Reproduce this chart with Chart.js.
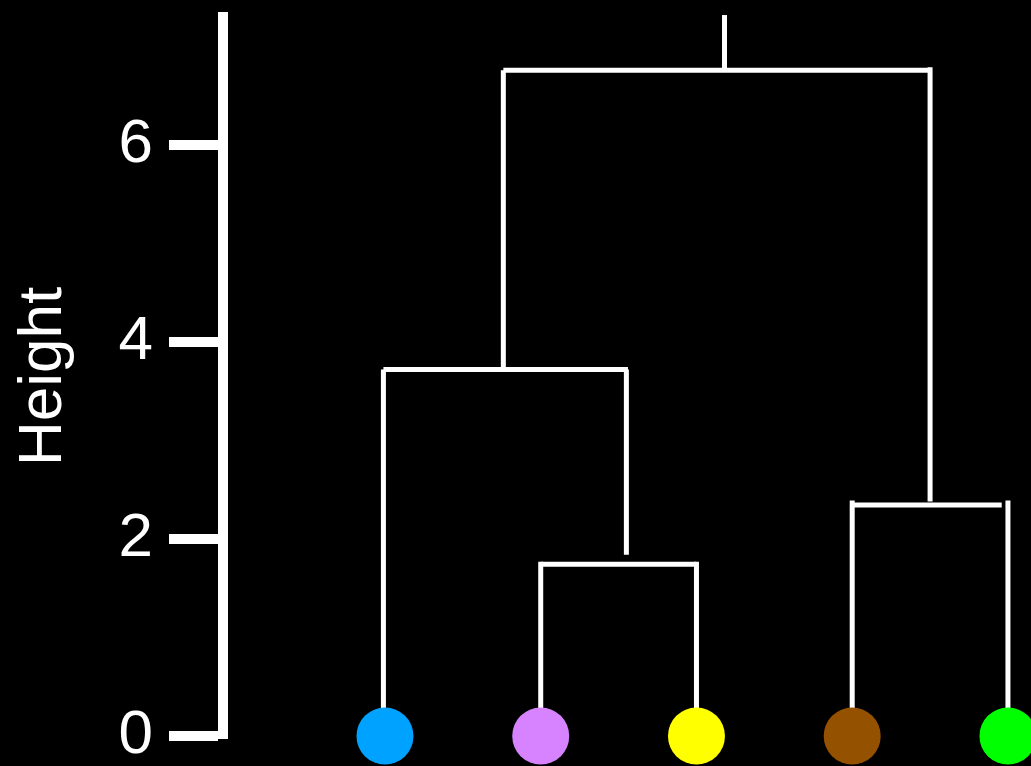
<!DOCTYPE html>
<html>
<head>
<meta charset="utf-8">
<script src="https://cdn.jsdelivr.net/npm/chart.js@4/dist/chart.umd.min.js"></script>
<style>
  html, body { margin: 0; padding: 0; background: #000; }
  canvas { display: block; }
</style>
</head>
<body>
<canvas id="c" width="1031" height="766"></canvas>
<script>
// Leaves (bottom of the dendrogram)
const leafX = [1, 2, 3, 4, 5];
const leafColors = ['#00A2FF', '#D783FF', '#FFFF00', '#945200', '#00FF00'];
// Y axis
const yTicks = [0, 2, 4, 6];
const yTitle = 'Height';
// Merge heights
const mergeHeights = [1.75, 2.35, 3.72, 6.76];
// Dendrogram segments: [x1, y1, x2, y2] in data units
const segments = [
  [0.99, 0,     0.99, 3.72],
  [0.99, 3.72,  2.56, 3.72],
  [2.55, 3.72,  2.55, 1.84],
  [2.00, 0,     2.00, 1.77],
  [2.00, 1.745, 3.00, 1.745],
  [3.00, 0,     3.00, 1.77],
  [1.76, 3.72,  1.76, 6.76],
  [1.76, 6.76,  4.50, 6.76],
  [4.50, 6.79,  4.50, 2.38],
  [3.18, 6.76,  3.18, 7.32],
  [4.00, 0,     4.00, 2.39],
  [4.00, 2.345, 4.96, 2.345],
  [5.00, 0,     5.00, 2.39]
];

const FONT = '"Liberation Sans", Arial, Helvetica, sans-serif';

const datasets = [{
  type: 'scatter',
  label: 'leaves',
  data: leafX.map(x => ({x: x, y: 0})),
  pointRadius: 28.5,
  pointHoverRadius: 28.5,
  pointBackgroundColor: leafColors,
  pointBorderWidth: 0,
  showLine: false,
  clip: false,
  order: 0
}];
segments.forEach((s, i) => {
  datasets.push({
    type: 'line',
    label: 'seg' + i,
    data: [{x: s[0], y: s[1]}, {x: s[2], y: s[3]}],
    borderColor: '#ffffff',
    borderWidth: 5,
    borderCapStyle: 'butt',
    pointRadius: 0,
    fill: false,
    tension: 0,
    clip: false,
    order: 1
  });
});

new Chart(document.getElementById('c'), {
  type: 'scatter',
  data: { datasets },
  options: {
    responsive: false,
    animation: false,
    events: [],
    layout: { autoPadding: false, padding: { left: 0, right: 0, top: 17, bottom: 30 } },
    plugins: { legend: { display: false }, tooltip: { enabled: false } },
    scales: {
      x: { type: 'linear', display: false, min: -0.04, max: 5.148 },
      y: {
        type: 'linear',
        min: 0,
        max: 7.3,
        afterBuildTicks: (s) => { s.ticks = yTicks.map(v => ({value: v})); },
        afterFit: (s) => { s.width = 223; s.paddingTop = 0; s.paddingBottom = 0; },
        ticks: {
          color: '#ffffff',
          padding: 16,
          font: { family: FONT, size: 62, lineHeight: 0.5 },
          includeBounds: false
        },
        grid: {
          drawOnChartArea: false,
          drawTicks: true,
          tickLength: 54,
          tickWidth: 10,
          tickColor: '#ffffff',
          color: '#ffffff',
          lineWidth: 6
        },
        border: { display: true, width: 10, color: '#ffffff' },
        title: {
          display: true,
          text: yTitle,
          color: '#ffffff',
          font: { family: FONT, size: 62, lineHeight: 1.2 },
          padding: { top: 7, bottom: 0 }
        }
      }
    }
  }
});
</script>
</body>
</html>
